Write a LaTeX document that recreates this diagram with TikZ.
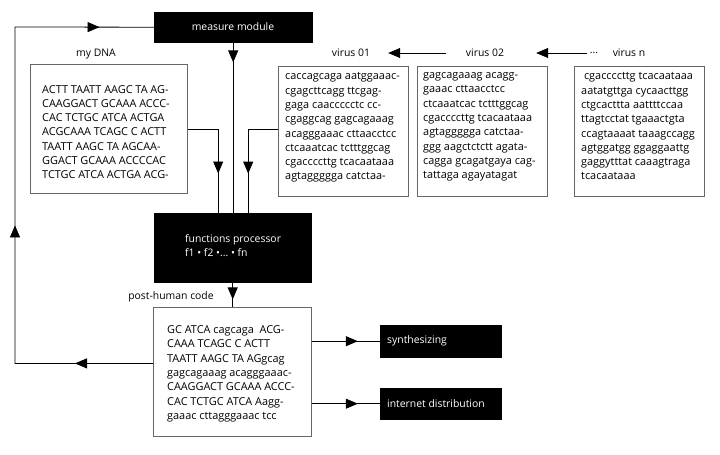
\documentclass[tikz,border=0pt]{standalone}
\usepackage{fontspec}
\setmainfont{Open Sans}
\usetikzlibrary{arrows.meta,decorations.markings}
\begin{document}
\begin{tikzpicture}[x=1pt,y=-1pt,
  every node/.style={font=\fontsize{10.4}{14.3}\selectfont},
  box/.style={draw=black!60, line width=0.8pt, inner sep=0pt, anchor=north west},
  blk/.style={fill=black, draw=black, inner sep=0pt, anchor=north west},
  seq/.style={align=left, inner sep=0pt, anchor=north west, font=\fontsize{10.9}{14.3}\selectfont},
  wtxt/.style={text=white, inner sep=0pt},
  lbl/.style={inner sep=0pt},
  conn/.style={line width=0.8pt},
  tipA/.style={-{Triangle[length=12pt,width=10pt]}},
  arrat/.style={postaction={decorate}, decoration={markings, mark=at position #1 with {\arrow{Triangle[length=12pt,width=10pt]}}}}
]
\useasboundingbox (0,0) rectangle (720,455);

% black boxes
\node[blk, minimum width=158pt, minimum height=30pt] (measure) at (154,12) {};
\node[wtxt] (measuret) at (233,27) {measure module};
\node[blk, minimum width=157pt, minimum height=69pt] (fproc) at (154,213) {};
\node[wtxt, align=left, anchor=north west] (fproct) at (185,234) {functions processor\\f1 \textbullet{} f2 \textbullet...\ \textbullet{} fn};
\node[blk, minimum width=121pt, minimum height=32pt] (synth) at (380,325) {};
\node[wtxt, anchor=west] (syntht) at (387,341) {synthesizing};
\node[blk, minimum width=121pt, minimum height=31pt] (inet) at (380,388) {};
\node[wtxt, anchor=west] (inett) at (387,404) {internet distribution};

% white boxes
\node[box, minimum width=157pt, minimum height=129pt] (dna) at (30,64) {};
\node[box, minimum width=130pt, minimum height=130pt] (v1) at (278,66) {};
\node[box, minimum width=130pt, minimum height=130pt] (v2) at (417,66) {};
\node[box, minimum width=130pt, minimum height=130pt] (vn) at (574,66) {};
\node[box, minimum width=158pt, minimum height=129pt] (post) at (153,307) {};

% labels
\node[lbl] (dnal) at (96,54) {my DNA};
\node[lbl] (v1l) at (351,53) {virus 01};
\node[lbl] (v2l) at (485,53) {virus 02};
\node[lbl] (dots) at (594,53) {...};
\node[lbl] (vnl) at (629,53) {virus n};
\node[lbl] (postl) at (171,297) {post-human code};

% sequences
\node[seq] (dnat) at (42,85) {ACTT TAATT AAGC TA AG-\\CAAGGACT GCAAA ACCC-\\CAC TCTGC ATCA ACTGA\\ACGCAAA TCAGC C ACTT\\TAATT AAGC TA AGCAA-\\GGACT GCAAA ACCCCAC\\TCTGC ATCA ACTGA ACG-};
\node[seq] (v1t) at (285,72.5) {caccagcaga aatggaaac-\\cgagcttcagg ttcgag-\\gaga caaccccctc cc-\\cgaggcag gagcagaaag\\acagggaaac cttaacctcc\\ctcaaatcac tctttggcag\\cgaccccttg tcacaataaa\\agtaggggga catctaa-};
\node[seq] (v2t) at (423,72.5) {gagcagaaag acagg-\\gaaac cttaacctcc\\ctcaaatcac tctttggcag\\cgaccccttg tcacaataaa\\agtaggggga catctaa-\\ggg aagctctctt agata-\\cagga gcagatgaya cag-\\tattaga agayatagat};
\node[seq] (vnt) at (581,72.5) {\ cgaccccttg tcacaataaa\\aatatgttga cycaacttgg\\ctgcacttta aattttccaa\\ttagtcctat tgaaactgta\\ccagtaaaat taaagccagg\\agtggatgg ggaggaattg\\gaggytttat caaagtraga\\tcacaataaa};
\node[seq] (postt) at (167,325.5) {GC ATCA cagcaga\ \ ACG-\\CAAA TCAGC C ACTT\\TAATT AAGC TA AGgcag\\gagcagaaag acagggaaac-\\CAAGGACT GCAAA ACCC-\\CAC TCTGC ATCA Aagg-\\gaaac cttagggaaac tcc};

% connectors
\coordinate (ctop) at (15,27);
\draw[conn, postaction={decorate}, decoration={markings,
   mark=at position 78pt with {\arrow{Triangle[length=12pt,width=10pt]}},
   mark=at position 276pt with {\arrow{Triangle[length=12pt,width=10pt]}},
   mark=at position 559pt with {\arrow{Triangle[length=12pt,width=10pt]}}}]
  ([yshift=8.5pt]post.west) -| (ctop) -- (measure.west);
\draw[conn, arrat=20pt] (measure.south) -- (measure.south |- fproc.north);
\draw[conn, arrat=75pt] (dna.east) -| ([xshift=-14.5pt]fproc.north);
\draw[conn, arrat=74pt] ([yshift=2pt]v1.west) -| ([xshift=15.5pt]fproc.north);
\draw[conn, arrat=17pt] (fproc.south) -- (fproc.south |- post.north);
\draw[conn, arrat=46pt] (synth.west -| post.east) -- (synth.west);
\draw[conn, arrat=46pt] (inet.west -| post.east) -- (inet.west);
\draw[conn, tipA, shorten <=20pt, shorten >=18pt] (v2l.west) -- (v1l.east);
\draw[conn, tipA, shorten <=3pt, shorten >=32pt] (dots.west) -- (v2l.east);
\end{tikzpicture}
\end{document}
